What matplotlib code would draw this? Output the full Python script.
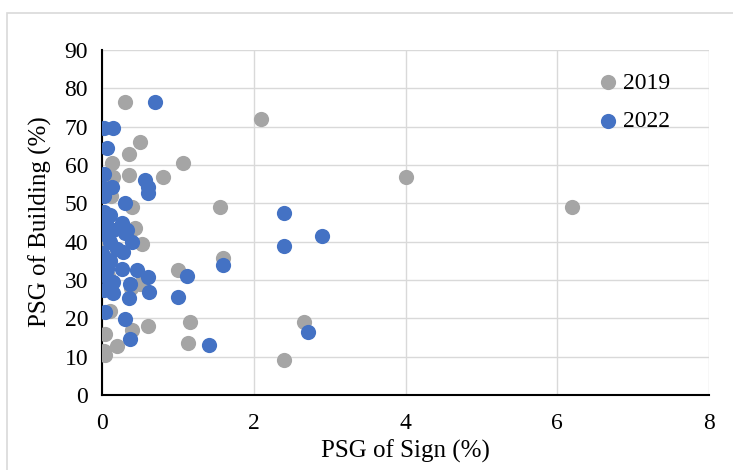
import matplotlib
matplotlib.use("Agg")
import matplotlib.pyplot as plt
from matplotlib.patches import Rectangle

# 2019 series (gray)
x2019 = [0.30, 2.10, 0.50, 0.36, 0.13, 1.07, 0.36, 0.80, 0.15, 0.40, 0.43, 4.00, 6.20, 1.55,
         1.60, 1.00, 0.60, 1.16, 1.14, 2.40, 2.66, 0.53, 0.10, 0.40, 0.04, 0.20, 0.04, 0.02,
         0.50, 0.38, 0.05, 0.10, 0.02, 0.20, 0.08, 0.12]
y2019 = [76.5, 72.0, 66.0, 63.0, 60.5, 60.5, 57.4, 57.0, 57.0, 49.0, 43.5, 57.0, 49.0, 49.0,
         35.7, 32.6, 18.0, 19.0, 13.6, 9.1, 19.0, 39.4, 22.0, 17.0, 16.0, 12.8, 10.5, 11.5,
         29.0, 28.0, 45.0, 35.0, 40.0, 38.0, 31.0, 52.0]

# 2022 series (blue)
x2022 = [0.70, 0.02, 0.15, 0.07, 0.02, 0.57, 0.60, 0.60, 0.02, 0.13, 0.02, 0.30, 0.02, 0.02,
         0.10, 0.26, 0.06, 0.33, 0.10, 0.40, 0.30, 0.00, 0.28, 0.06, 0.26, 0.46, 0.60, 1.12,
         0.15, 0.37, 0.02, 0.15, 0.35, 0.62, 1.00, 0.04, 0.30, 0.37, 1.41, 2.40, 2.90, 2.40,
         1.60, 2.71, 0.02, 0.03, 0.05, 0.02, 0.15, 0.20, 0.10]
y2022 = [76.5, 69.7, 69.7, 64.5, 57.6, 56.0, 54.3, 52.7, 54.0, 54.3, 52.0, 50.0, 47.7, 46.5,
         47.0, 45.0, 44.0, 43.0, 40.0, 40.0, 42.3, 37.0, 37.3, 33.0, 33.0, 32.6, 30.8, 31.0,
         29.5, 29.0, 27.4, 26.6, 25.3, 27.0, 25.5, 21.7, 19.8, 14.6, 13.0, 47.4, 41.5, 39.0,
         34.0, 16.4, 36.0, 33.0, 31.0, 42.0, 43.0, 38.0, 35.0]

x_ticks = [0, 2, 4, 6, 8]
y_ticks = [0, 10, 20, 30, 40, 50, 60, 70, 80, 90]

plt.rcParams['font.family'] = ['Liberation Serif', 'DejaVu Serif']

W, H = 733, 470
fig = plt.figure(figsize=(W / 100, H / 100), dpi=100)
fig.patches.append(Rectangle((7 / W, -0.05), 1.1, 1 - 13 / H + 0.05, transform=fig.transFigure,
                             fill=False, edgecolor='#D9D9D9', linewidth=1.2, zorder=0))
ax = fig.add_axes([102 / W, 1 - 395 / H, 607 / W, 345 / H])

ax.scatter(x2019, y2019, s=120, color='#A5A5A5', label='2019', zorder=3, linewidths=0)
ax.scatter(x2022, y2022, s=120, color='#4472C4', label='2022', zorder=4, linewidths=0)

ax.set_xlim(0, 8)
ax.set_ylim(0, 90)
ax.set_xticks(x_ticks)
ax.set_yticks(y_ticks)
ax.grid(True, color='#D9D9D9', linewidth=1.0, zorder=0)
ax.set_axisbelow(True)
for s in ['top', 'right']:
    ax.spines[s].set_visible(False)
for s in ['left', 'bottom']:
    ax.spines[s].set_color('black')
    ax.spines[s].set_linewidth(1.5)
ax.tick_params(axis='both', length=0, labelsize=17)
ax.tick_params(axis='x', pad=13)
ax.tick_params(axis='y', pad=10)

ax.set_xlabel('PSG of Sign (%)', fontsize=18)
ax.set_ylabel('PSG of Building (%)', fontsize=18)
ax.xaxis.set_label_coords((405 - 102) / 607, -(451 - 395) / 345)
ax.yaxis.set_label_coords(-(102 - 40) / 607, (395 - 222) / 345)
ax.xaxis.label.set_va('center')
ax.yaxis.label.set_va('center')

leg = ax.legend(loc='upper left', bbox_to_anchor=((596 - 102) / 607, (395 - 72) / 345),
                frameon=False, fontsize=17, handlelength=1.0, handletextpad=0.15,
                markerscale=1.0, labelspacing=0.72, borderaxespad=0, borderpad=0)

fig.savefig('out.png', dpi=100)
